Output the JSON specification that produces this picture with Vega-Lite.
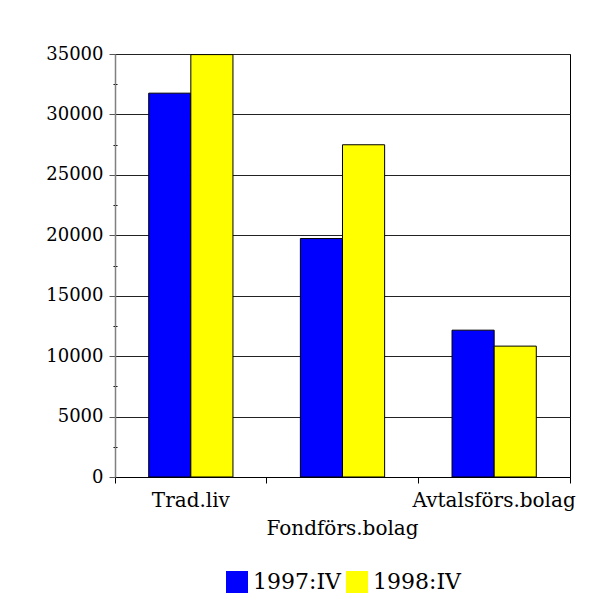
{
  "$schema": "https://vega.github.io/schema/vega-lite/v6.json",
  "autosize": {"type": "none"},
  "width": 455,
  "height": 423,
  "padding": {"left": 115, "top": 54, "right": 33, "bottom": 131},
  "background": "white",
  "config": {
    "view": {"stroke": "black", "strokeWidth": 1},
    "font": "DejaVu Serif"
  },
  "data": {
    "values": [
      {"kategori": "Trad.liv", "period": "1997:IV", "varde": 31760},
      {"kategori": "Trad.liv", "period": "1998:IV", "varde": 34950},
      {"kategori": "Fondförs.bolag", "period": "1997:IV", "varde": 19730},
      {"kategori": "Fondförs.bolag", "period": "1998:IV", "varde": 27490},
      {"kategori": "Avtalsförs.bolag", "period": "1997:IV", "varde": 12150},
      {"kategori": "Avtalsförs.bolag", "period": "1998:IV", "varde": 10830}
    ]
  },
  "resolve": {"axis": {"y": "independent"}},
  "layer": [
    {
      "mark": {"type": "bar", "opacity": 0},
      "encoding": {
        "x": {
          "field": "kategori",
          "type": "nominal",
          "sort": ["Trad.liv", "Fondförs.bolag", "Avtalsförs.bolag"],
          "scale": {"paddingInner": 0, "paddingOuter": 0},
          "axis": {
            "title": null,
            "labelAngle": 0,
            "bandPosition": 1,
            "tickExtra": true,
            "domainColor": "black",
            "tickColor": "black",
            "tickSize": 6,
            "labelFontSize": 20,
            "labelColor": "black",
            "labelPadding": 7,
            "labelLineHeight": 28,
            "labelOverlap": false,
            "labelBound": false,
            "labelExpr": "datum.label == 'Fondförs.bolag' ? ['', datum.label] : datum.label",
            "grid": false
          }
        },
        "xOffset": {
          "field": "period",
          "type": "nominal",
          "scale": {"paddingInner": 0, "paddingOuter": 0.8}
        },
        "y": {
          "field": "varde",
          "type": "quantitative",
          "scale": {"domain": [0, 35000], "nice": false},
          "axis": {
            "orient": "left",
            "title": null,
            "values": [2500, 7500, 12500, 17500, 22500, 27500, 32500],
            "labels": false,
            "grid": false,
            "domain": false,
            "offset": -2,
            "tickSize": 4,
            "tickColor": "black",
            "tickWidth": 1
          }
        }
      }
    },
    {
      "mark": {"type": "bar", "stroke": "black", "strokeWidth": 1},
      "encoding": {
        "x": {
          "field": "kategori",
          "type": "nominal",
          "sort": ["Trad.liv", "Fondförs.bolag", "Avtalsförs.bolag"],
          "scale": {"paddingInner": 0, "paddingOuter": 0},
          "axis": {
            "title": null,
            "labelAngle": 0,
            "bandPosition": 1,
            "tickExtra": true,
            "domainColor": "black",
            "tickColor": "black",
            "tickSize": 6,
            "labelFontSize": 20,
            "labelColor": "black",
            "labelPadding": 7,
            "labelLineHeight": 28,
            "labelOverlap": false,
            "labelBound": false,
            "labelExpr": "datum.label == 'Fondförs.bolag' ? ['', datum.label] : datum.label",
            "grid": false
          }
        },
        "xOffset": {
          "field": "period",
          "type": "nominal",
          "scale": {"paddingInner": 0, "paddingOuter": 0.8}
        },
        "y": {
          "field": "varde",
          "type": "quantitative",
          "scale": {"domain": [0, 35000], "nice": false},
          "axis": {
            "orient": "left",
            "title": null,
            "values": [0, 5000, 10000, 15000, 20000, 25000, 30000, 35000],
            "format": "d",
            "grid": true,
            "gridColor": "#222222",
            "gridWidth": 1,
            "domainColor": "#808080",
            "domainWidth": 1.5,
            "tickColor": "#555555",
            "tickSize": 6,
            "labelFontSize": 18,
            "labelColor": "black",
            "labelPadding": 6
          }
        },
        "color": {
          "field": "period",
          "type": "nominal",
          "scale": {"domain": ["1997:IV", "1998:IV"], "range": ["#0000ff", "#ffff00"]},
          "legend": {
            "title": null,
            "orient": "none",
            "legendX": 111,
            "legendY": 517,
            "direction": "horizontal",
            "symbolType": "square",
            "symbolSize": 484,
            "symbolStrokeWidth": 0,
            "symbolOpacity": 1,
            "labelFontSize": 22,
            "labelColor": "black",
            "labelOffset": 5,
            "columnPadding": 5,
            "padding": 0
          }
        }
      }
    }
  ]
}
